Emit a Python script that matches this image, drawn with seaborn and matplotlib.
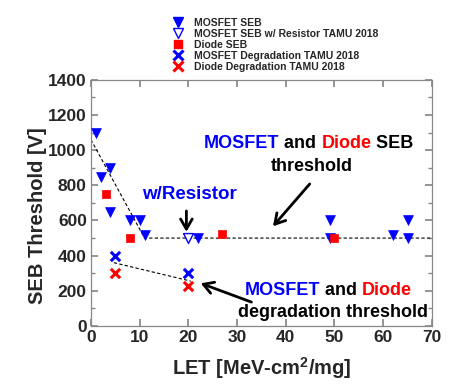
import matplotlib
matplotlib.use("Agg")
import matplotlib.pyplot as plt
import seaborn as sns
from matplotlib.lines import Line2D
from matplotlib.ticker import MultipleLocator

sns.set_theme(style="white")
plt.rcParams["font.family"] = ["Liberation Sans", "DejaVu Sans"]
plt.rcParams["font.weight"] = "bold"
plt.rcParams["mathtext.fontset"] = "custom"
plt.rcParams["mathtext.rm"] = "Liberation Sans:bold"
plt.rcParams["mathtext.bf"] = "Liberation Sans:bold"

BLUE = "#0000ff"
RED = "#ff0000"

# --- data ---
mosfet_seb_let = [1, 2, 4, 4, 8, 10, 11, 22, 49, 49, 62, 65, 65]
mosfet_seb_v = [1100, 850, 900, 650, 600, 600, 520, 500, 600, 500, 520, 600, 500]

resistor_let = [20]
resistor_v = [500]

diode_seb_let = [3, 8, 27, 50]
diode_seb_v = [750, 500, 525, 500]

mosfet_deg_let = [5, 20]
mosfet_deg_v = [400, 300]

diode_deg_let = [5, 20]
diode_deg_v = [300, 225]

# trend lines drawn by hand in the original
seb_trend_let = [0, 11, 70]
seb_trend_v = [1060, 500, 500]
deg_trend_let = [4.7, 20.5]
deg_trend_v = [360, 255]

fig = plt.figure(figsize=(4.57, 3.88), dpi=100)
ax = fig.add_axes([0.199, 0.160, 0.746, 0.634])

ax.plot(seb_trend_let, seb_trend_v, ls=(0, (3, 2)), color="black", lw=0.8, zorder=1)
ax.plot(deg_trend_let, deg_trend_v, ls=(0, (3, 2)), color="black", lw=0.8, zorder=1)

sns.scatterplot(x=mosfet_seb_let, y=mosfet_seb_v, marker="v", s=50, color=BLUE,
                edgecolor=BLUE, linewidth=0.5, ax=ax, zorder=3)
sns.scatterplot(x=resistor_let, y=resistor_v, marker="v", s=50, facecolor="white",
                edgecolor=BLUE, linewidth=1.0, ax=ax, zorder=3)
sns.scatterplot(x=diode_seb_let, y=diode_seb_v, marker="s", s=32, color=RED,
                edgecolor=RED, linewidth=0.5, ax=ax, zorder=3)
sns.scatterplot(x=mosfet_deg_let, y=mosfet_deg_v, marker="x", s=45, color=BLUE,
                linewidth=2.2, ax=ax, zorder=3)
sns.scatterplot(x=diode_deg_let, y=diode_deg_v, marker="x", s=45, color=RED,
                linewidth=2.2, ax=ax, zorder=3)

ax.set_xlim(0, 70)
ax.set_ylim(0, 1400)
ax.xaxis.set_major_locator(MultipleLocator(10))
ax.yaxis.set_major_locator(MultipleLocator(200))
ax.yaxis.set_minor_locator(MultipleLocator(100))
ax.tick_params(which="both", direction="in", top=True, right=True, bottom=True, left=True,
               color="#888888")
ax.tick_params(which="major", length=5, pad=3, labelsize=12.5)
ax.tick_params(which="minor", length=3)
for sp in ax.spines.values():
    sp.set_color("#888888")
    sp.set_linewidth(0.9)
for lab in ax.get_xticklabels() + ax.get_yticklabels():
    lab.set_fontweight("bold")

ax.set_xlabel(r"LET [MeV-cm$^{2}$/mg]", fontsize=14.5, fontweight="bold", labelpad=7)
ax.set_ylabel("SEB Threshold [V]", fontsize=14.5, fontweight="bold")
ax.yaxis.set_label_coords(-0.13, 0.45)

# annotations
arrow = dict(arrowstyle="->,head_length=0.6,head_width=0.35", color="black", lw=2)
ax.text(20.3, 750, "w/Resistor", color=BLUE, fontsize=13.5, fontweight="bold",
        ha="center", va="center")
ax.annotate("", xy=(19.6, 520), xytext=(19.6, 670), arrowprops=arrow)

fs = 13
t1 = ax.text(23.2, 1040, "MOSFET", color=BLUE, fontsize=fs, fontweight="bold", va="center")
t2 = ax.annotate(" and ", xycoords=t1, xy=(1, 0.5), va="center", ha="left",
                 fontsize=fs, fontweight="bold", color="black")
t3 = ax.annotate("Diode", xycoords=t2, xy=(1, 0.5), va="center", ha="left",
                 fontsize=fs, fontweight="bold", color=RED)
ax.annotate(" SEB", xycoords=t3, xy=(1, 0.5), va="center", ha="left",
            fontsize=fs, fontweight="bold", color="black")
ax.text(45.3, 905, "threshold", color="black", fontsize=fs, fontweight="bold",
        ha="center", va="center")
ax.annotate("", xy=(37, 555), xytext=(45.3, 820), arrowprops=arrow)

b1 = ax.text(31.5, 200, "MOSFET", color=BLUE, fontsize=fs, fontweight="bold", va="center")
b2 = ax.annotate(" and ", xycoords=b1, xy=(1, 0.5), va="center", ha="left",
                 fontsize=fs, fontweight="bold", color="black")
ax.annotate("Diode", xycoords=b2, xy=(1, 0.5), va="center", ha="left",
            fontsize=fs, fontweight="bold", color=RED)
ax.text(69.3, 78, "degradation threshold", color="black", fontsize=fs, fontweight="bold",
        ha="right", va="center")
ax.annotate("", xy=(22, 248), xytext=(33.5, 130), arrowprops=arrow)

handles = [
    Line2D([], [], ls="none", marker="v", ms=7, color=BLUE, mec=BLUE),
    Line2D([], [], ls="none", marker="v", ms=7, mfc="white", mec=BLUE, mew=1),
    Line2D([], [], ls="none", marker="s", ms=6, color=RED, mec=RED),
    Line2D([], [], ls="none", marker="x", ms=6.5, color=BLUE, mew=2.2),
    Line2D([], [], ls="none", marker="x", ms=6.5, color=RED, mew=2.2),
]
labels = ["MOSFET SEB", "MOSFET SEB w/ Resistor TAMU 2018", "Diode SEB",
          "MOSFET Degradation TAMU 2018", "Diode Degradation TAMU 2018"]
fig.legend(handles, labels, loc="upper left", bbox_to_anchor=(0.367, 0.968),
           frameon=False, prop=dict(size=7.5, weight="bold"), handlelength=1,
           handletextpad=1.0, labelspacing=0.1, borderpad=0)

fig.savefig("out.png", dpi=100)
